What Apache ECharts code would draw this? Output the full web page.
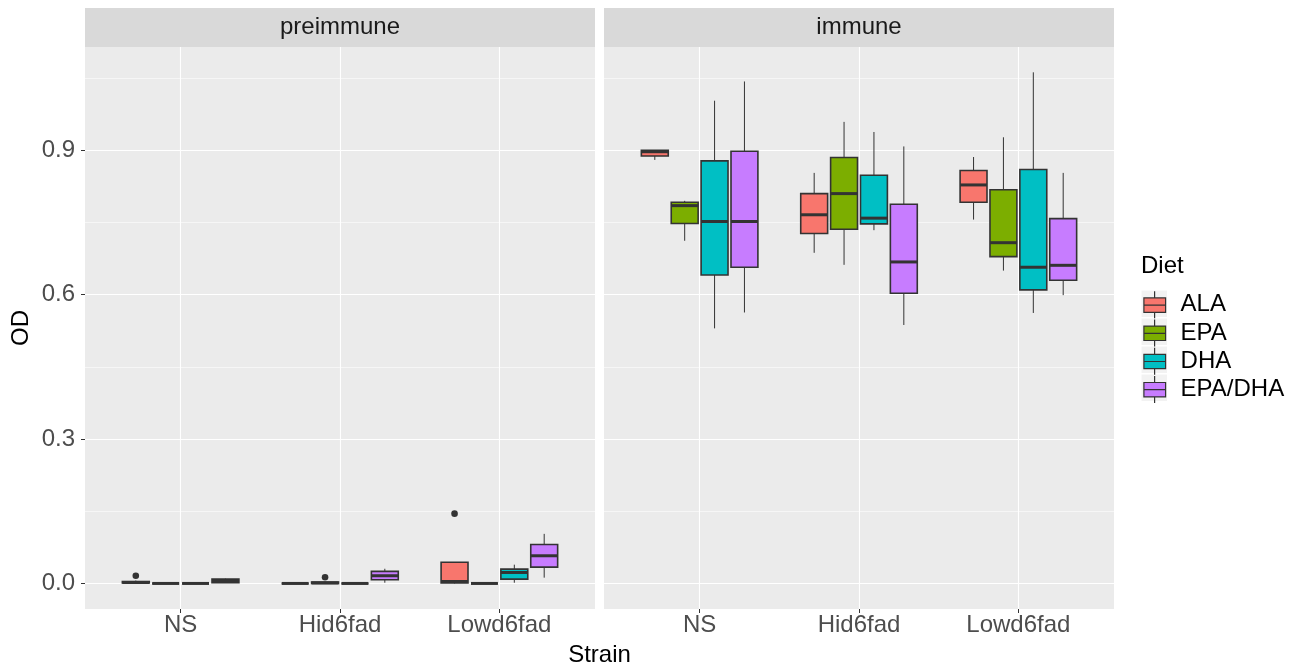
<!DOCTYPE html>
<html>
<head>
<meta charset="utf-8">
<script src="https://cdn.jsdelivr.net/npm/echarts@6/dist/echarts.min.js"></script>
<style>
  html, body { margin: 0; padding: 0; background: #ffffff; }
  #chart { width: 1308px; height: 666px; }
</style>
</head>
<body>
<div id="chart"></div>
<script>
// Categories
const strains = ['NS', 'Hid6fad', 'Lowd6fad'];
const diets = ['ALA', 'EPA', 'DHA', 'EPA/DHA'];
const panels = ['preimmune', 'immune'];
const yTicks = [0, 0.3, 0.6, 0.9];
const yMinorTicks = [0.15, 0.45, 0.75, 1.05];

// Five-number summaries [min, q1, median, q3, max], one row per strain (NS, Hid6fad, Lowd6fad)
const preALA    = [[0, 0.001, 0.002, 0.004, 0.006], [0, 0, 0, 0, 0], [0, 0.001, 0.004, 0.044, 0.044]];
const preEPA    = [[0, 0, 0, 0, 0], [0, 0, 0.001, 0.003, 0.004], [0, 0, 0, 0, 0]];
const preDHA    = [[0, 0, 0, 0, 0], [0, 0, 0, 0, 0], [0.0015, 0.009, 0.0228, 0.0297, 0.039]];
const preEPADHA = [[0.001, 0.0015, 0.005, 0.009, 0.01], [0.0015, 0.0077, 0.016, 0.025, 0.0305], [0.012, 0.034, 0.0575, 0.081, 0.103]];

const immALA    = [[0.880, 0.888, 0.897, 0.900, 0.900], [0.687, 0.727, 0.766, 0.810, 0.853], [0.756, 0.792, 0.828, 0.858, 0.886]];
const immEPA    = [[0.712, 0.748, 0.785, 0.792, 0.795], [0.662, 0.736, 0.810, 0.885, 0.959], [0.650, 0.679, 0.708, 0.818, 0.927]];
const immDHA    = [[0.530, 0.641, 0.752, 0.878, 1.003], [0.734, 0.747, 0.759, 0.848, 0.938], [0.562, 0.610, 0.657, 0.860, 1.062]];
const immEPADHA = [[0.563, 0.657, 0.752, 0.898, 1.043], [0.537, 0.603, 0.668, 0.788, 0.908], [0.599, 0.630, 0.661, 0.758, 0.853]];

// Outlying points [strainIndex, value]
const preALAOut = [[0, 0.016], [2, 0.145]];
const preEPAOut = [[1, 0.013]];

const dietColors = ['#F8766D', '#7CAE00', '#00BFC4', '#C77CFF'];

const summaries = [
  [preALA, preEPA, preDHA, preEPADHA],
  [immALA, immEPA, immDHA, immEPADHA]
];
const outliers = [
  [preALAOut, preEPAOut, [], []],
  [[], [], [], []]
];

// Dodge layout inside each strain: 4 slots across 0.75 of a category unit
const SLOT = 0.1875;
const BOX_W = SLOT * 0.9;
const INK = '#333333';
const FONT = 'Liberation Sans, Arial, sans-serif';

function dodgeX(strainIdx, dietIdx) {
  return strainIdx + 1 + (dietIdx - 1.5) * SLOT;
}

function boxRenderer(dietIdx) {
  return function (params, api) {
    const s = api.value(0);
    const x = dodgeX(s, dietIdx);
    const vMin = api.value(1), q1 = api.value(2), med = api.value(3), q3 = api.value(4), vMax = api.value(5);
    const pTopL = api.coord([x - BOX_W / 2, q3]);
    const pBotR = api.coord([x + BOX_W / 2, q1]);
    const pMedL = api.coord([x - BOX_W / 2, med]);
    const pMedR = api.coord([x + BOX_W / 2, med]);
    const pMax = api.coord([x, vMax]);
    const pMin = api.coord([x, vMin]);
    const cx = api.coord([x, q3])[0];
    const fill = api.visual('color');
    return {
      type: 'group',
      children: [
        { type: 'line', shape: { x1: cx, y1: pMax[1], x2: cx, y2: pTopL[1] }, style: { stroke: INK, lineWidth: 1 } },
        { type: 'line', shape: { x1: cx, y1: pBotR[1], x2: cx, y2: pMin[1] }, style: { stroke: INK, lineWidth: 1 } },
        { type: 'rect', shape: { x: pTopL[0], y: pTopL[1], width: pBotR[0] - pTopL[0], height: pBotR[1] - pTopL[1] },
          style: { fill: fill, stroke: INK, lineWidth: 1.6 } },
        { type: 'line', shape: { x1: pMedL[0], y1: pMedL[1], x2: pMedR[0], y2: pMedR[1] }, style: { stroke: INK, lineWidth: 3 } }
      ]
    };
  };
}

function pointRenderer(dietIdx) {
  return function (params, api) {
    const p = api.coord([dodgeX(api.value(0), dietIdx), api.value(1)]);
    return { type: 'circle', shape: { cx: p[0], cy: p[1], r: 3.3 }, style: { fill: INK } };
  };
}

const Y_MIN = -0.0531, Y_MAX = 1.1146;
const grids = [
  { left: 85, top: 47, width: 510, height: 562, show: true, backgroundColor: '#EBEBEB', borderWidth: 0 },
  { left: 604, top: 47, width: 510, height: 562, show: true, backgroundColor: '#EBEBEB', borderWidth: 0 }
];

const xAxes = grids.map((g, i) => ({
  type: 'value', gridIndex: i, min: 0.4, max: 3.6, position: 'bottom',
  axisLine: { show: false, onZero: false },
  axisTick: { show: true, customValues: [1, 2, 3], length: 4, lineStyle: { color: INK, width: 1 } },
  axisLabel: { show: true, customValues: [1, 2, 3], formatter: v => strains[Math.round(v) - 1],
    color: '#4D4D4D', fontSize: 24, fontFamily: FONT, margin: 4 },
  splitLine: { show: true, lineStyle: { color: '#FFFFFF', width: 1.1 } }
}));

const yAxes = [];
grids.forEach((g, i) => {
  // major lines, ticks and labels
  yAxes.push({
    type: 'value', gridIndex: i, min: Y_MIN, max: Y_MAX, position: 'left',
    name: i === 0 ? 'OD' : '', nameLocation: 'middle', nameGap: 52, nameRotate: 90,
    nameTextStyle: { color: '#000', fontSize: 24, fontFamily: FONT },
    axisLine: { show: false, onZero: false },
    axisTick: { show: i === 0, customValues: yTicks, length: 4, lineStyle: { color: INK, width: 1 } },
    axisLabel: { show: i === 0, customValues: yTicks, formatter: v => v.toFixed(1),
      color: '#4D4D4D', fontSize: 24, fontFamily: FONT, margin: 10 },
    splitLine: { show: true, lineStyle: { color: '#FFFFFF', width: 1.1 } }
  });
  // minor lines
  yAxes.push({
    type: 'value', gridIndex: i, min: Y_MIN, max: Y_MAX, position: 'left',
    axisLine: { show: false, onZero: false },
    axisTick: { show: false, customValues: yMinorTicks },
    axisLabel: { show: false },
    splitLine: { show: true, lineStyle: { color: '#FFFFFF', width: 0.55 } }
  });
});

const series = [];
panels.forEach((panel, p) => {
  diets.forEach((diet, d) => {
    series.push({
      type: 'custom', name: diet, xAxisIndex: p, yAxisIndex: p * 2,
      itemStyle: { color: dietColors[d] },
      renderItem: boxRenderer(d),
      encode: { x: 0, y: [1, 2, 3, 4, 5] },
      data: summaries[p][d].map((row, s) => [s].concat(row)),
      silent: true, z: 3
    });
    if (outliers[p][d].length) {
      series.push({
        type: 'custom', name: diet, xAxisIndex: p, yAxisIndex: p * 2,
        itemStyle: { color: dietColors[d] },
        renderItem: pointRenderer(d),
        encode: { x: 0, y: 1 },
        data: outliers[p][d],
        silent: true, z: 4
      });
    }
  });
});

const keyIcon = 'path://M13 0V6.6M2.3 6.6H24V21H2.3ZM2.3 13.8H24M13 21V27';

const graphics = [];
grids.forEach((g, i) => {
  graphics.push({ type: 'rect', z: 0, shape: { x: g.left, y: 8, width: g.width, height: 39 }, style: { fill: '#D9D9D9' } });
  graphics.push({ type: 'text', z: 1, x: g.left + g.width / 2, y: 27.5,
    style: { text: panels[i], fill: '#1A1A1A', font: '24px ' + FONT, align: 'center', verticalAlign: 'middle' } });
});
diets.forEach((d, k) => {
  graphics.push({ type: 'rect', z: 0, shape: { x: 1141.5, y: 290.5 + k * 28, width: 25.5, height: 26.5 }, style: { fill: '#F2F2F2' } });
});
graphics.push({ type: 'text', z: 1, x: 1141, y: 266,
  style: { text: 'Diet', fill: '#000', font: '24px ' + FONT, align: 'left', verticalAlign: 'middle' } });
graphics.push({ type: 'text', z: 1, x: 599.5, y: 655,
  style: { text: 'Strain', fill: '#000', font: '24px ' + FONT, align: 'center', verticalAlign: 'middle' } });

const chart = echarts.init(document.getElementById('chart'), null, { renderer: 'canvas' });
chart.setOption({
  animation: false,
  backgroundColor: '#FFFFFF',
  textStyle: { fontFamily: FONT },
  grid: grids,
  xAxis: xAxes,
  yAxis: yAxes,
  legend: {
    orient: 'vertical', left: 1143.3, top: 290.7, padding: 0,
    itemWidth: 21.7, itemHeight: 27, itemGap: 0,
    selectedMode: false,
    data: diets.map(name => ({ name: name, icon: keyIcon })),
    itemStyle: { borderColor: INK, borderWidth: 1.2 },
    textStyle: { color: '#000', fontSize: 24, lineHeight: 27, fontFamily: FONT, padding: [0, 0, 0, 10] }
  },
  graphic: graphics,
  series: series
});
</script>
</body>
</html>
